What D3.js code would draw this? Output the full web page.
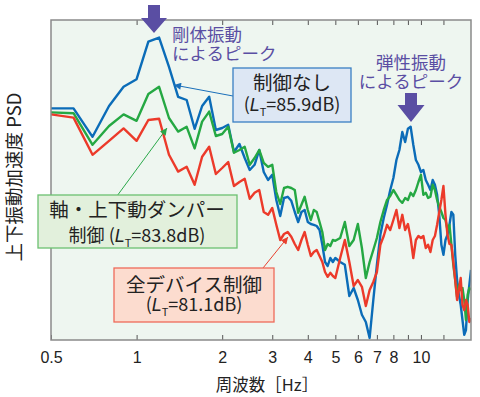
<!DOCTYPE html>
<html><head><meta charset="utf-8">
<script src="https://cdn.jsdelivr.net/npm/d3@7"></script>
<style>
body{margin:0;background:#fff;}
svg{display:block;font-family:"Noto Sans CJK JP","Noto Sans",sans-serif;}
</style></head>
<body>
<svg id="c" width="480" height="397"></svg>
<script>
// frequency [Hz]
const freqs = [0.5,0.6,0.7,0.8,0.9,1.0,1.1,1.2,1.3,1.4,1.5,1.6,1.7,1.8,1.9,2.0,2.1,2.2,2.3,2.4,2.5,2.6,2.7,2.8,2.9,3.0,3.1,3.2,3.3,3.4,3.5,3.6,3.7,3.8,3.9,4.0,4.1,4.2,4.3,4.4,4.5,4.6,4.7,4.8,4.9,
5.0,5.2,5.4,5.6,5.8,6.0,6.2,6.4,6.6,6.8,7.0,7.2,7.4,7.6,7.8,8.0,8.2,8.4,8.6,8.8,9.0,9.2,9.4,9.6,9.8,10.0,10.2,10.4,10.6,10.8,11.0,11.2,11.4,11.6,11.8,12.0,12.2,12.4,12.6,12.8,13.0,13.2,13.4,13.6,13.8,14.0,14.2,14.4,14.6,14.8,15.0];
// relative PSD level [dB]
const noControl = [57.9,57.9,50.8,58.5,63.3,65.2,74.6,75.6,68.3,60.8,
60.0,52.8,58.5,60.8,52.5,53.0,53.8,47.0,49.0,45.5,
42.5,43.8,47.5,42.0,40.0,41.3,35.0,31.0,35.5,35.8,
34.8,32.0,29.5,32.0,32.5,29.5,29.0,28.8,28.5,27.5,
23.8,19.5,18.5,20.5,19.5,
20.5,19.5,18.8,11.0,13.0,10.0,6.3,4.5,0.5,10.0,
18.8,26.3,30.5,33.8,37.5,40.5,45.0,47.5,52.0,49.5,
52.8,53.3,48.8,45.0,43.8,42.0,42.5,40.0,38.8,37.5,
40.0,38.8,36.3,31.3,23.8,21.3,25.0,26.3,28.8,32.0,
31.3,21.3,15.0,11.3,8.8,5.0,1.3,2.5,10.0,13.8,
17.5];
const damperControl = [56.9,56.7,48.8,53.5,56.4,54.8,61.5,63.3,55.5,52.1,
53.3,47.9,54.6,57.1,51.0,51.5,53.3,46.8,47.5,48.3,
43.8,45.5,47.5,44.3,43.3,43.8,37.0,34.0,38.0,38.3,
38.0,37.5,31.8,33.8,35.8,32.5,30.0,32.5,32.0,29.5,
27.0,22.5,24.0,23.5,25.0,
24.8,25.5,29.5,23.5,25.0,29.0,23.0,15.5,19.5,22.5,
25.5,29.5,32.5,35.0,36.0,37.5,36.3,35.0,34.3,35.5,
35.0,36.8,36.0,37.5,39.5,41.3,36.3,36.8,35.5,35.8,
38.8,37.5,35.0,33.3,32.0,30.5,30.0,27.5,28.8,23.8,
18.8,15.0,10.8,13.8,12.5,13.0,10.0,5.0,11.3,13.0,
12.5];
const allControl = [56.4,55.6,46.3,49.8,52.9,49.8,55.0,55.3,46.3,42.1,
43.3,38.8,45.8,48.3,41.5,43.0,44.5,38.5,39.5,40.3,
35.3,36.8,37.5,32.0,31.3,33.0,28.8,25.0,26.5,27.0,
25.8,24.0,22.5,25.0,27.0,23.8,21.0,22.0,22.5,21.0,
19.5,17.0,15.8,16.8,16.0,
15.5,20.5,25.0,19.5,13.5,15.0,13.3,8.5,12.5,14.5,
17.0,23.8,26.0,28.8,27.5,30.0,32.5,28.0,31.3,27.5,
29.0,25.5,20.5,25.0,26.0,25.5,26.0,23.0,23.8,22.0,
25.0,26.0,28.8,32.0,35.0,38.5,31.3,26.3,24.0,23.8,
19.5,15.0,10.0,12.5,15.5,8.8,7.5,10.0,8.8,4.5,
5.5];
const tickValues = [0.5,1,2,3,4,5,6,7,8,9,10,12];
const tickLabels = ["0.5","1","2","3","4","5","6","7","8","","10",""];
const xLabel = "周波数［Hz］";
const yLabel = "上下振動加速度 PSD";

const L = 51, R = 471, T = 20, B = 340;
const svg = d3.select("#c");
const x = d3.scaleLog().domain([0.5, 15]).range([L, R]);
const y = d3.scaleLinear().domain([0, 80]).range([B, T]);

svg.append("rect").attr("x", L).attr("y", T).attr("width", R - L).attr("height", B - T)
  .attr("fill", "#eef6f0");

svg.append("defs").append("clipPath").attr("id", "clip")
  .append("rect").attr("x", L).attr("y", T).attr("width", R - L).attr("height", B - T);

const line = d3.line().x(d => x(d[0])).y(d => y(d[1]));
const series = [
  {vals: noControl, color: "#0b6cb8"},
  {vals: damperControl, color: "#25a843"},
  {vals: allControl, color: "#ec3a2a"}
];
const g = svg.append("g").attr("clip-path", "url(#clip)");
series.forEach(s => {
  g.append("path").datum(freqs.map((f, i) => [f, s.vals[i]]))
    .attr("d", line).attr("fill", "none").attr("stroke", s.color)
    .attr("stroke-width", 2.4).attr("stroke-linejoin", "round");
});

// axes
const fmt = d => tickLabels[tickValues.indexOf(d)];
const xb = svg.append("g").attr("transform", `translate(0,${B})`)
  .call(d3.axisBottom(x).tickValues(tickValues).tickFormat(fmt).tickSizeInner(-5).tickSizeOuter(0).tickPadding(12));
xb.select(".domain").remove();
xb.selectAll(".tick line").attr("stroke", "#555");
xb.selectAll(".tick text").attr("y", 23).attr("dy", 0).attr("font-size", 16)
  .attr("fill", "#222").attr("font-family", "'Liberation Sans',Arial,sans-serif");
const xt = svg.append("g").attr("transform", `translate(0,${T})`)
  .call(d3.axisTop(x).tickValues(tickValues.slice(1)).tickFormat("").tickSizeInner(-5).tickSizeOuter(0));
xt.select(".domain").remove();
xt.selectAll(".tick line").attr("stroke", "#555");

svg.append("rect").attr("x", L).attr("y", T).attr("width", R - L).attr("height", B - T)
  .attr("fill", "none").attr("stroke", "#8a8a8a").attr("stroke-width", 1.5);

svg.append("text").attr("x", 267).attr("y", 391).attr("text-anchor", "middle")
  .attr("font-size", 16.5).attr("fill", "#222").text(xLabel);
svg.append("text").attr("transform", "translate(21,177) rotate(-90)").attr("text-anchor", "middle")
  .attr("font-size", 18.5).attr("fill", "#222").text(yLabel);

// annotations
const purple = "#5a4ea3";
function bigArrow(cx, top, shaftW, shaftBottom, headW, tip) {
  svg.append("path").attr("fill", purple).attr("d",
    `M${cx - shaftW/2},${top}L${cx + shaftW/2},${top}L${cx + shaftW/2},${shaftBottom}L${cx + headW/2},${shaftBottom}L${cx},${tip}L${cx - headW/2},${shaftBottom}L${cx - shaftW/2},${shaftBottom}Z`);
}
bigArrow(154, 5, 12, 18, 26, 33);
bigArrow(411, 93, 12, 105, 27, 122);

function purpleText(xp, yp, lines, anchor) {
  lines.forEach((s, i) => svg.append("text").attr("x", xp).attr("y", yp + i * 19)
    .attr("font-size", 17.5).attr("fill", purple).attr("text-anchor", anchor).text(s));
}
purpleText(172, 41, ["剛体振動", "によるピーク"], "start");
purpleText(411, 69, ["弾性振動", "によるピーク"], "middle");

const defs = svg.select("defs");
function marker(id, color) {
  defs.append("marker").attr("id", id).attr("viewBox", "0 0 10 10").attr("refX", 10).attr("refY", 5)
    .attr("markerWidth", 9).attr("markerHeight", 7).attr("markerUnits", "userSpaceOnUse").attr("orient", "auto")
    .append("path").attr("d", "M0,0L10,5L0,10Z").attr("fill", color);
}
marker("mb", "#1a6fba"); marker("mg", "#2aa84a"); marker("mr", "#e8402e");

function pointer(x1, y1, x2, y2, color, m) {
  svg.append("line").attr("x1", x1).attr("y1", y1).attr("x2", x2).attr("y2", y2)
    .attr("stroke", color).attr("stroke-width", 1).attr("marker-end", `url(#${m})`);
}
pointer(233, 96, 174, 85, "#1a6fba", "mb");
pointer(117, 196, 167, 128, "#2aa84a", "mg");
pointer(263, 268, 288, 237, "#e8402e", "mr");

function box(x0, y0, w, h, fill, stroke, line1, lt, cx, y1, y2, prefix) {
  svg.append("rect").attr("x", x0).attr("y", y0).attr("width", w).attr("height", h)
    .attr("fill", fill).attr("stroke", stroke).attr("stroke-width", 1.3);
  svg.append("text").attr("x", cx).attr("y", y1).attr("text-anchor", "middle")
    .attr("font-size", 19.5).attr("fill", "#222").text(line1);
  const t = svg.append("text").attr("x", cx).attr("y", y2).attr("text-anchor", "middle")
    .attr("font-size", 18).attr("fill", "#222");
  t.append("tspan").text(prefix + "(");
  t.append("tspan").attr("font-style", "italic").attr("font-family", "'Liberation Sans',sans-serif").text("L");
  t.append("tspan").attr("font-size", 11).attr("dy", 5).text("T");
  t.append("tspan").attr("dy", -5).text("=" + lt + "dB)");
}
box(233, 68, 118, 54, "#dde7f4", "#3a7fc3", "制御なし", "85.9", 292, 90, 111, "");
box(38, 195, 199, 53, "#e2f0dc", "#6cc070", "軸・上下動ダンパー", "83.8", 137, 217, 242, "制御 ");
box(114, 268, 160, 54, "#fcdccf", "#ee6a5a", "全デバイス制御", "81.1", 194, 292, 311, "");
</script>
</body></html>
